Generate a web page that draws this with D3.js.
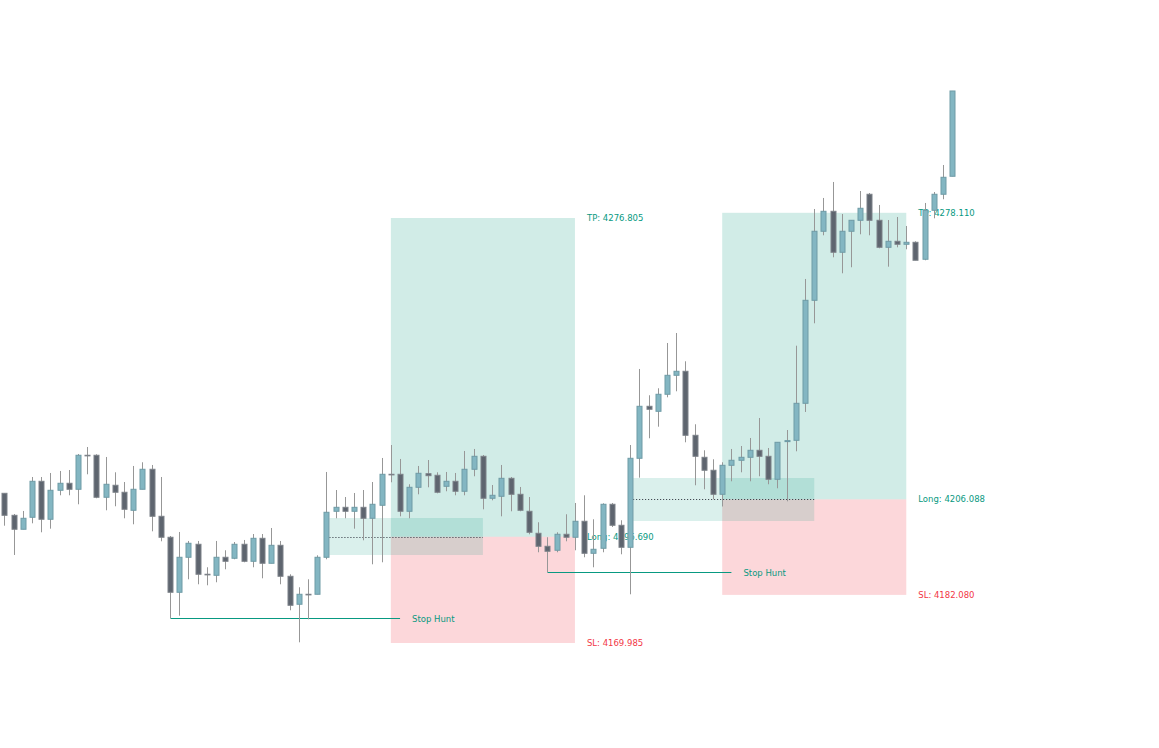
<!DOCTYPE html>
<html><head><meta charset="utf-8">
<script src="https://cdn.jsdelivr.net/npm/d3@7/dist/d3.min.js"></script>
<style>html,body{margin:0;padding:0;background:#fff;} svg{display:block;}</style>
</head><body>
<svg id="chart" width="1159" height="748"></svg>
<script>
// ---- data (bar index 0..103) ----
const bars = d3.range(104);
const opens = [4207.61,4202.08,4198.57,4201.58,4210.63,4201.08,4208.37,4210.13,4208.62,4217.17,
4217.17,4206.61,4209.63,4207.87,4203.34,4208.62,4213.65,4201.83,4196.56,4182.73,
4191.53,4194.80,4187.26,4187.00,4191.53,4191.28,4194.80,4190.52,4196.30,4190.02,
4194.54,4186.75,4179.72,4182.23,4182.23,4191.53,4203.09,4204.09,4203.09,4204.09,
4201.33,4204.60,4212.39,4212.39,4203.09,4209.12,4212.54,4212.14,4209.37,4210.63,
4208.12,4213.65,4216.91,4206.36,4206.86,4211.38,4207.36,4203.09,4197.56,4194.29,
4193.29,4197.31,4196.56,4200.58,4192.53,4193.79,4204.85,4199.57,4194.04,4216.41,
4229.48,4228.22,4232.50,4237.27,4238.28,4222.19,4216.66,4213.40,4207.36,4214.65,
4215.91,4216.66,4218.42,4216.91,4211.13,4220.60,4220.93,4230.23,4256.12,4273.47,
4278.49,4268.19,4273.47,4276.23,4282.77,4276.23,4269.44,4270.95,4270.20,4270.70,
4266.43,4278.74,4282.77,4287.29];
const highs = [4207.61,4202.41,4203.17,4211.71,4211.71,4212.72,4213.22,4213.47,4217.49,4219.25,
4217.42,4216.74,4212.89,4210.45,4214.48,4215.41,4214.73,4211.71,4196.88,4197.89,
4195.63,4195.63,4189.02,4195.63,4193.29,4195.37,4195.88,4197.38,4197.38,4198.89,
4195.63,4187.26,4183.99,4186.00,4192.03,4212.97,4208.44,4206.68,4207.69,4208.44,
4210.45,4216.49,4219.75,4216.24,4209.88,4214.48,4215.98,4212.89,4212.97,4212.72,
4218.25,4218.75,4217.24,4209.70,4214.73,4211.71,4209.20,4206.68,4200.33,4196.56,
4197.81,4202.34,4205.18,4207.11,4201.08,4205.10,4205.18,4200.83,4219.75,4238.86,
4232.25,4234.01,4245.39,4247.90,4240.79,4224.96,4218.42,4216.16,4215.41,4218.75,
4219.50,4221.51,4226.54,4219.00,4220.43,4223.52,4244.71,4261.48,4279.07,4281.84,
4285.86,4277.81,4276.23,4283.59,4283.09,4280.08,4276.30,4277.06,4274.80,4270.95,
4280.58,4283.34,4290.13,4308.73];
const lows = [4199.47,4192.11,4198.57,4200.07,4197.81,4198.72,4207.11,4207.11,4204.85,4212.39,
4206.36,4203.34,4204.35,4201.33,4199.82,4208.62,4198.06,4195.55,4176.20,4176.85,
4186.00,4184.74,4184.49,4185.25,4188.51,4191.03,4190.27,4189.02,4186.25,4190.02,
4184.74,4178.21,4170.16,4175.95,4182.23,4191.03,4201.33,4201.33,4198.72,4195.80,
4189.77,4190.27,4210.38,4201.83,4201.33,4207.36,4209.12,4207.61,4208.12,4207.11,
4207.11,4211.89,4203.59,4205.85,4201.83,4203.09,4203.09,4197.31,4192.79,4187.76,
4192.79,4195.55,4193.29,4191.53,4189.02,4192.79,4199.14,4192.28,4182.23,4211.54,
4221.44,4224.35,4231.74,4233.25,4220.43,4209.63,4208.62,4206.10,4204.30,4210.63,
4212.89,4210.63,4211.89,4209.88,4208.87,4205.60,4218.17,4228.05,4250.34,4272.46,
4266.93,4262.91,4264.42,4272.71,4272.46,4269.19,4264.57,4269.44,4268.94,4266.18,
4266.18,4276.73,4281.51,4287.29];
const closes = [4202.08,4198.57,4201.33,4210.63,4201.08,4208.37,4210.13,4208.62,4217.17,4217.10,
4206.61,4209.88,4207.87,4203.59,4208.62,4213.65,4201.83,4196.56,4182.73,4191.53,
4195.05,4187.26,4187.15,4191.53,4190.52,4194.80,4190.52,4196.30,4190.02,4194.54,
4186.75,4179.46,4182.23,4182.20,4191.53,4202.84,4204.09,4203.09,4204.09,4201.33,
4204.85,4212.39,4212.39,4203.09,4209.12,4212.64,4212.04,4207.87,4210.63,4208.12,
4213.65,4216.91,4206.36,4207.11,4211.38,4207.36,4203.34,4197.81,4194.29,4193.04,
4197.31,4196.56,4200.58,4192.53,4193.54,4204.85,4199.57,4194.04,4216.41,4229.48,
4228.73,4232.50,4237.27,4238.28,4222.19,4216.91,4213.40,4207.36,4214.65,4215.91,
4216.66,4218.42,4216.91,4211.13,4220.43,4220.85,4230.23,4256.12,4273.47,4278.49,
4268.19,4273.47,4276.23,4279.25,4276.23,4269.44,4270.95,4270.20,4270.70,4266.18,
4278.74,4282.77,4287.04,4308.73];

// long positions: start/end bar, entry, take profit, stop loss
const posStart = [42, 78];
const posEnd   = [62, 98];
const posEntry = [4196.690, 4206.088];
const posTP    = [4276.805, 4278.110];
const posSL    = [4169.985, 4182.080];

// entry zones
const zoneStart  = [35, 68];
const zoneEnd    = [52, 88];
const zoneTop    = [4201.40, 4211.46];
const zoneBottom = [4192.11, 4200.65];

// stop hunt lines
const huntStart = [18, 59];
const huntEnd   = [43, 79];
const huntPrice = [4176.20, 4187.76];
const huntLabel = ["Stop Hunt", "Stop Hunt"];

// ---- drawing ----
const svg = d3.select("#chart");
const x = d3.scaleLinear().domain([0, 103]).range([4.3, 952.3]);
const y = d3.scaleLinear().domain([4169.985, 4276.805]).range([643, 218]);
const halfW = 2.5;
const fmt = d3.format(".3f");
const FONT = "'DejaVu Sans', Verdana, sans-serif";
const GREEN = "#089981", RED = "#f23645";

const gBoxes = svg.append("g");
posStart.forEach((s, i) => {
  const x0 = x(s), x1 = x(posEnd[i]);
  gBoxes.append("rect").attr("x", x0).attr("width", x1 - x0)
    .attr("y", y(posTP[i])).attr("height", y(posEntry[i]) - y(posTP[i]))
    .attr("fill", "rgba(8,153,129,0.19)");
  gBoxes.append("rect").attr("x", x0).attr("width", x1 - x0)
    .attr("y", y(posEntry[i])).attr("height", y(posSL[i]) - y(posEntry[i]))
    .attr("fill", "rgba(242,54,69,0.2)");
});

const gZones = svg.append("g");
zoneStart.forEach((s, i) => {
  const x0 = x(s) + halfW + 0.5, x1 = x(zoneEnd[i]);
  gZones.append("rect").attr("x", x0).attr("width", x1 - x0)
    .attr("y", y(zoneTop[i])).attr("height", y(zoneBottom[i]) - y(zoneTop[i]))
    .attr("fill", "rgba(8,153,129,0.15)");
  const ly = Math.round(y(posEntry[i])) + 0.5;
  gZones.append("line").attr("x1", x0).attr("x2", x1).attr("y1", ly).attr("y2", ly)
    .attr("stroke", "#2a2e39").attr("stroke-width", 1).attr("stroke-dasharray", "1,2");
});

const gHunt = svg.append("g");
huntStart.forEach((s, i) => {
  const ly = Math.round(y(huntPrice[i])) + 0.5;
  gHunt.append("line").attr("x1", Math.round(x(s)) + 0.5).attr("x2", x(huntEnd[i]))
    .attr("y1", ly).attr("y2", ly).attr("stroke", GREEN).attr("stroke-width", 1);
  gHunt.append("text").attr("x", x(huntEnd[i]) + 12).attr("y", ly)
    .attr("dominant-baseline", "central").attr("font-family", FONT).attr("font-size", 8.5)
    .attr("fill", GREEN).text(huntLabel[i]);
});

const gLabels = svg.append("g").attr("font-family", FONT).attr("font-size", 8.5)
  .attr("dominant-baseline", "central");
posStart.forEach((s, i) => {
  const lx = x(posEnd[i]) + 12;
  gLabels.append("text").attr("x", lx).attr("y", y(posTP[i])).attr("fill", GREEN).text("TP: " + fmt(posTP[i]));
  gLabels.append("text").attr("x", lx).attr("y", y(posEntry[i])).attr("fill", GREEN).text("Long: " + fmt(posEntry[i]));
  gLabels.append("text").attr("x", lx).attr("y", y(posSL[i])).attr("fill", RED).text("SL: " + fmt(posSL[i]));
});

// candles
const candles = bars.map(i => ({i, o: opens[i], h: highs[i], l: lows[i], c: closes[i]}));
const gC = svg.append("g");
const cg = gC.selectAll("g").data(candles).join("g");
cg.append("line")
  .attr("x1", d => Math.round(x(d.i)) + 0.5).attr("x2", d => Math.round(x(d.i)) + 0.5)
  .attr("y1", d => y(d.h)).attr("y2", d => y(d.l))
  .attr("stroke", "#979797").attr("stroke-width", 1);
cg.append("rect")
  .attr("x", d => Math.round(x(d.i)) + 0.5 - halfW)
  .attr("width", halfW * 2)
  .attr("y", d => y(Math.max(d.o, d.c)))
  .attr("height", d => Math.max(0.6, Math.abs(y(d.o) - y(d.c))))
  .attr("fill", d => d.c > d.o ? "#83b6c2" : "#5e656f")
  .attr("stroke", d => d.c > d.o ? "#6f9ba6" : "#7d8289")
  .attr("stroke-width", 1);
</script>
</body></html>
